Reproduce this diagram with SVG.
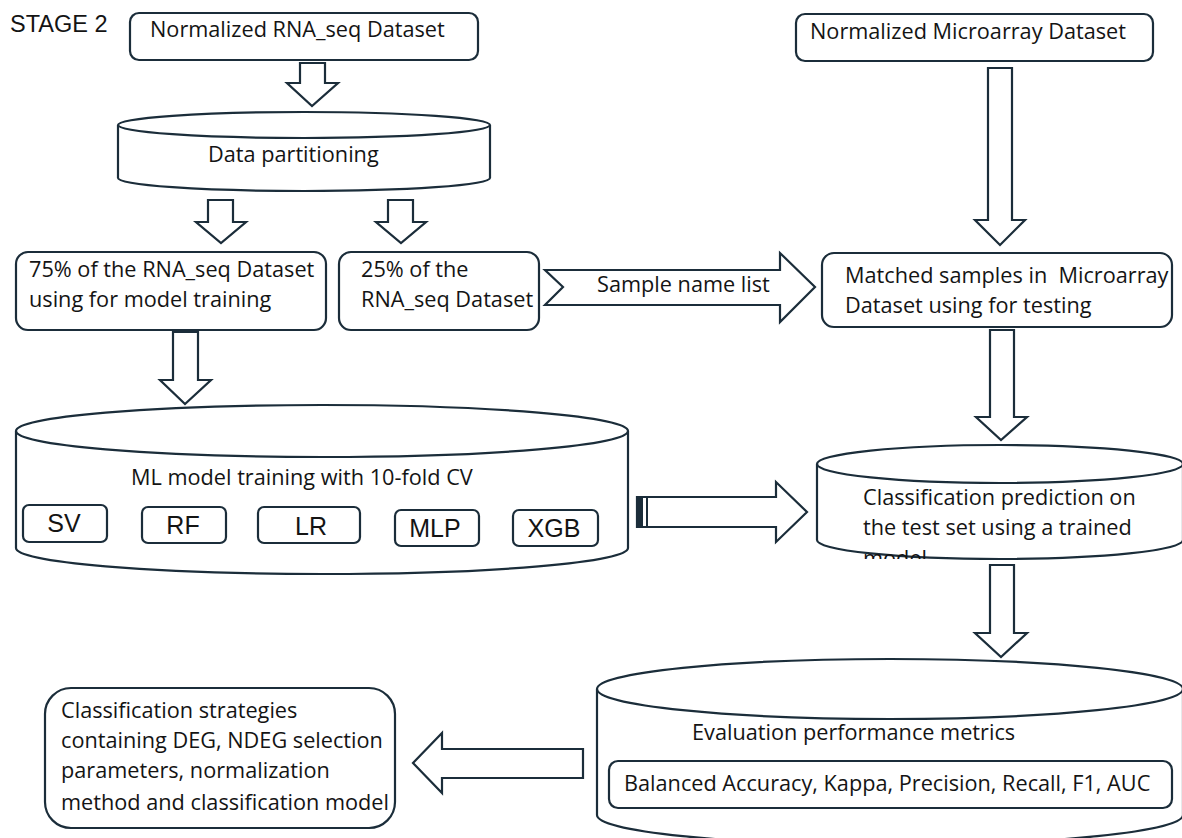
<svg xmlns="http://www.w3.org/2000/svg" width="1182" height="838" viewBox="0 0 1182 838">
<defs>
<style>
.box{fill:#fff;stroke:#1b2d3a;stroke-width:2.2}
.arr{fill:#fff;stroke:#1b2d3a;stroke-width:2.2;stroke-linejoin:miter}
.t{font-family:"Open Sans","Liberation Sans",sans-serif;font-size:21.7px;fill:#141414}
.m{font-family:"Liberation Sans",Arial,sans-serif;font-size:25px;fill:#141414;text-anchor:middle}
</style>
<clipPath id="clipCls"><rect x="800" y="440" width="400" height="119"/></clipPath>
</defs>
<rect width="1182" height="838" fill="#fff"/>
<text x="10" y="32" style="font-family:'Liberation Sans',Arial,sans-serif;font-size:23.5px;fill:#141414">STAGE 2</text>

<g id="connectors">
<polygon class="arr" points="300,63 325,63 325,83 338,83 312,106 287,83 300,83"/>
<polygon class="arr" points="208,200 233,200 233,222 246,222 221,243 196,222 208,222"/>
<polygon class="arr" points="388,200 413,200 413,222 426,222 401,243 376,222 388,222"/>
<polygon class="arr" points="988,68 1012,68 1012,220 1025,220 1000,245 975,220 988,220"/>
<polygon class="arr" points="173,332 198,332 198,380 211,380 185,404 160,380 173,380"/>
<polygon class="arr" points="545,270 780,270 780,253 815,287 780,322 780,305 545,305 563,287"/>
<polygon class="arr" points="990,330 1014,330 1014,417 1027,417 1001,440 976,417 990,417"/>
<polygon class="arr" points="637,497 776,497 776,482 807,512 776,542 776,527 637,527"/>
<rect x="637" y="497" width="6" height="30" fill="#1b2d3a"/>
<line x1="647" y1="497" x2="647" y2="527" stroke="#1b2d3a" stroke-width="2"/>
<polygon class="arr" points="990,565 1014,565 1014,633 1027,633 1001,657 975,633 990,633"/>
<polygon class="arr" points="583,749 442,749 442,733 413,763 442,793 442,778 583,778"/>
<text class="t" x="597" y="292">Sample name list</text>
</g>

<g id="node-rnaseq">
<rect class="box" x="130" y="13" width="348" height="47" rx="9"/>
<text class="t" x="150" y="37">Normalized RNA_seq Dataset</text>
</g>

<g id="node-partition">
<path class="box" d="M118,125 A186,13 0 0 1 490,125 L490,178 A186,13 0 0 1 118,178 Z"/>
<path class="box" style="fill:none" d="M118,125 A186,13 0 0 0 490,125"/>
<text class="t" x="208" y="162">Data partitioning</text>
</g>

<g id="node-microarray">
<rect class="box" x="796" y="14" width="357" height="47" rx="9"/>
<text class="t" x="810" y="39">Normalized Microarray Dataset</text>
</g>

<g id="node-train75">
<rect class="box" x="16" y="252" width="310" height="78" rx="12"/>
<text class="t" x="29" y="277">75% of the RNA_seq Dataset</text>
<text class="t" x="29" y="307">using for model training</text>
</g>

<g id="node-test25">
<rect class="box" x="339" y="252" width="200" height="78" rx="12"/>
<text class="t" x="361" y="277">25% of the</text>
<text class="t" x="361" y="307">RNA_seq Dataset</text>
</g>

<g id="node-matched">
<rect class="box" x="822" y="253" width="350" height="74" rx="12"/>
<text class="t" x="845" y="283" xml:space="preserve">Matched samples in  Microarray</text>
<text class="t" x="845" y="313">Dataset using for testing</text>
</g>

<g id="node-ml">
<path class="box" d="M16,431 A306,26 0 0 1 628,431 L628,548 A306,26 0 0 1 16,548 Z"/>
<path class="box" style="fill:none" d="M16,431 A306,26 0 0 0 628,431"/>
<text class="t" x="131" y="485">ML model training with 10-fold CV</text>
<rect class="box" x="23" y="505" width="84" height="37" rx="6"/>
<text class="m" x="64" y="532">SV</text>
<rect class="box" x="142" y="507" width="84" height="36" rx="6"/>
<text class="m" x="183" y="534">RF</text>
<rect class="box" x="258" y="507" width="102" height="36" rx="6"/>
<text class="m" x="311" y="535">LR</text>
<rect class="box" x="395" y="510" width="84" height="36" rx="6"/>
<text class="m" x="435" y="537">MLP</text>
<rect class="box" x="513" y="510" width="85" height="36" rx="6"/>
<text class="m" x="554" y="537">XGB</text>
</g>

<g id="node-classify">
<path class="box" d="M817,464 A183,19 0 0 1 1183,464 L1183,540 A183,19 0 0 1 817,540 Z"/>
<path class="box" style="fill:none" d="M817,464 A183,19 0 0 0 1183,464"/>
<g clip-path="url(#clipCls)">
<text class="t" x="863" y="505">Classification prediction on</text>
<text class="t" x="863" y="535">the test set using a trained</text>
<text class="t" x="863" y="566">model</text>
</g>
</g>

<g id="node-eval">
<path class="box" d="M597,689 A293,30 0 0 1 1183,689 L1183,815 A293,30 0 0 1 597,815 Z"/>
<path class="box" style="fill:none" d="M597,689 A293,30 0 0 0 1183,689"/>
<text class="t" x="692" y="740">Evaluation performance metrics</text>
<rect class="box" x="609" y="761" width="563" height="47" rx="9"/>
<text class="t" x="624" y="791">Balanced Accuracy, Kappa, Precision, Recall, F1, AUC</text>
</g>

<g id="node-strategies">
<rect class="box" x="45" y="688" width="350" height="140" rx="26"/>
<text class="t" x="61" y="718">Classification strategies</text>
<text class="t" x="61" y="748">containing DEG, NDEG selection</text>
<text class="t" x="61" y="778">parameters, normalization</text>
<text class="t" x="61" y="810">method and classification model</text>
</g>
</svg>
